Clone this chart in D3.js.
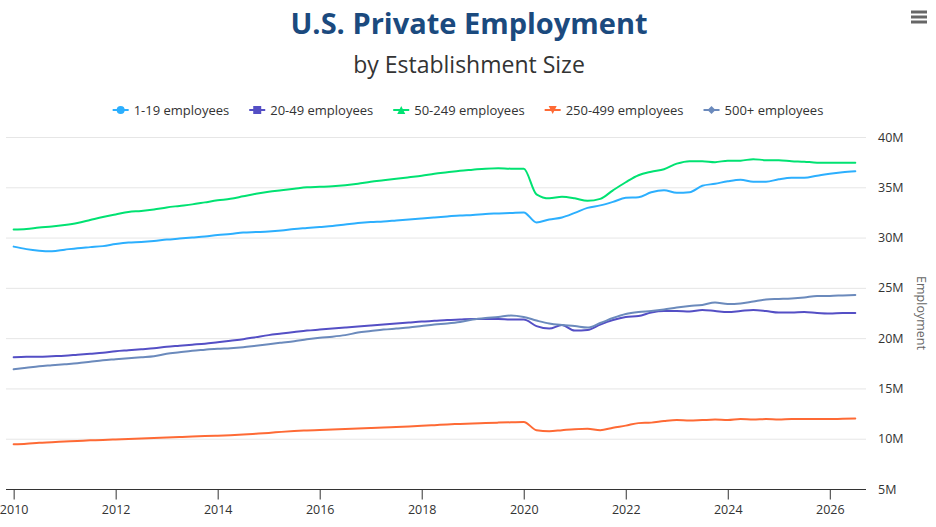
<!DOCTYPE html>
<html>
<head>
<meta charset="utf-8">
<script src="https://cdn.jsdelivr.net/npm/d3@7"></script>
<style>
  body { margin: 0; background: #fff; }
  svg { font-family: "Open Sans", "Noto Sans", sans-serif; display: block; }
</style>
</head>
<body>
<div id="chart"></div>
<script>
// quarterly estimates, millions of employees, starting 2010 Q1
var emp1to19 = [29.1, 28.85, 28.7, 28.65, 28.8, 28.95, 29.05, 29.15, 29.35, 29.5, 29.55, 29.65,
  29.8, 29.9, 30.0, 30.1, 30.25, 30.35, 30.5, 30.55, 30.6, 30.7, 30.85, 30.95,
  31.05, 31.15, 31.3, 31.45, 31.55, 31.6, 31.7, 31.8, 31.9, 32.0, 32.1, 32.2,
  32.25, 32.35, 32.4, 32.45, 32.5, 31.5, 31.8, 32.0, 32.45, 32.95, 33.2, 33.55,
  33.95, 34.0, 34.5, 34.7, 34.45, 34.5, 35.15, 35.35, 35.6, 35.75, 35.55, 35.55,
  35.8, 35.95, 35.95, 36.15, 36.35, 36.5, 36.6];
var emp20to49 = [18.1, 18.15, 18.15, 18.2, 18.25, 18.35, 18.45, 18.55, 18.7, 18.8, 18.9, 19.0,
  19.15, 19.25, 19.35, 19.45, 19.6, 19.75, 19.9, 20.1, 20.3, 20.45, 20.6, 20.75,
  20.85, 20.95, 21.05, 21.15, 21.25, 21.35, 21.45, 21.55, 21.65, 21.72, 21.8, 21.85,
  21.9, 21.9, 21.9, 21.85, 21.85, 21.2, 20.95, 21.3, 20.75, 20.8, 21.35, 21.8,
  22.1, 22.2, 22.55, 22.7, 22.7, 22.65, 22.8, 22.7, 22.6, 22.7, 22.8, 22.7,
  22.55, 22.55, 22.6, 22.5, 22.45, 22.5, 22.5];
var emp50to249 = [30.8, 30.85, 31.0, 31.1, 31.25, 31.45, 31.75, 32.05, 32.3, 32.55, 32.65, 32.8,
  33.0, 33.15, 33.3, 33.5, 33.7, 33.85, 34.1, 34.35, 34.55, 34.7, 34.85, 35.0,
  35.05, 35.1, 35.2, 35.35, 35.55, 35.7, 35.85, 36.0, 36.15, 36.35, 36.5, 36.65,
  36.75, 36.85, 36.9, 36.85, 36.85, 34.3, 33.9, 34.05, 33.9, 33.65, 33.85, 34.7,
  35.5, 36.2, 36.55, 36.8, 37.35, 37.6, 37.6, 37.5, 37.65, 37.65, 37.8, 37.7,
  37.7, 37.6, 37.55, 37.45, 37.45, 37.45, 37.45];
var emp250to499 = [9.45, 9.5, 9.6, 9.65, 9.72, 9.78, 9.84, 9.88, 9.93, 9.98, 10.03, 10.07,
  10.12, 10.17, 10.22, 10.26, 10.3, 10.35, 10.42, 10.5, 10.58, 10.68, 10.76, 10.82,
  10.87, 10.92, 10.97, 11.02, 11.07, 11.12, 11.17, 11.22, 11.28, 11.35, 11.42, 11.47,
  11.52, 11.56, 11.6, 11.63, 11.66, 10.85, 10.75, 10.85, 10.95, 11.0, 10.85, 11.1,
  11.3, 11.55, 11.6, 11.75, 11.85, 11.8, 11.85, 11.9, 11.85, 11.95, 11.9, 11.95,
  11.9, 11.95, 11.95, 11.95, 11.95, 11.98, 12.0];
var emp500plus = [16.9, 17.05, 17.2, 17.3, 17.4, 17.5, 17.65, 17.8, 17.9, 18.0, 18.1, 18.2,
  18.45, 18.6, 18.75, 18.85, 18.95, 19.0, 19.1, 19.25, 19.4, 19.55, 19.7, 19.9,
  20.05, 20.15, 20.3, 20.55, 20.7, 20.85, 20.95, 21.05, 21.2, 21.35, 21.45, 21.6,
  21.85, 22.0, 22.1, 22.25, 22.1, 21.75, 21.45, 21.3, 21.2, 21.05, 21.5, 22.0,
  22.4, 22.6, 22.7, 22.85, 23.05, 23.2, 23.3, 23.55, 23.4, 23.45, 23.65, 23.85,
  23.9, 23.95, 24.05, 24.2, 24.2, 24.25, 24.3];

var seriesNames = ["1-19 employees", "20-49 employees", "50-249 employees", "250-499 employees", "500+ employees"];
var seriesValues = [emp1to19, emp20to49, emp50to249, emp250to499, emp500plus];
var yTicks = [5, 10, 15, 20, 25, 30, 35, 40];
var xTicks = [2010, 2012, 2014, 2016, 2018, 2020, 2022, 2024, 2026];

var colors = ["#2caffe", "#544fc5", "#00e272", "#fe6a35", "#6b8abc"];
var symbols = ["circle", "square", "triangle", "triangle-down", "diamond"];

var width = 936, height = 527;
var plot = {left: 6, right: 866, top: 137, bottom: 489};

var quarters = d3.range(emp1to19.length).map(function(i) { return 2010 + i / 4; });

var svg = d3.select("#chart").append("svg")
    .attr("width", width)
    .attr("height", height);

var x = d3.scaleLinear([2009.85, 2026.71], [plot.left, plot.right]);
var y = d3.scaleLinear([5, 40], [plot.bottom, plot.top]);

// title
svg.append("text")
    .attr("x", width / 2 + 1).attr("y", 34)
    .attr("text-anchor", "middle")
    .style("font-size", "29px").style("font-weight", "bold")
    .style("fill", "#1b4a7e")
    .text("U.S. Private Employment");
svg.append("text")
    .attr("x", width / 2 + 1).attr("y", 73)
    .attr("text-anchor", "middle")
    .style("font-size", "23px")
    .style("fill", "#333333")
    .text("by Establishment Size");

// menu icon
var menu = svg.append("g").attr("stroke", "#666666").attr("stroke-width", 3);
[12, 17, 22].forEach(function(yy) {
    menu.append("line").attr("x1", 911).attr("x2", 927).attr("y1", yy).attr("y2", yy);
});

// gridlines
svg.append("g")
    .selectAll("line")
    .data(yTicks.slice(1))
    .join("line")
    .attr("x1", plot.left).attr("x2", plot.right)
    .attr("y1", function(d) { return y(d) + 0.5; })
    .attr("y2", function(d) { return y(d) + 0.5; })
    .attr("stroke", "#e6e6e6");

// y axis (right)
var yAxis = svg.append("g")
    .attr("transform", "translate(" + plot.right + ",0)")
    .call(d3.axisRight(y).tickValues(yTicks).tickSize(0).tickPadding(12)
        .tickFormat(function(d) { return d + "M"; }));
yAxis.select(".domain").remove();
yAxis.selectAll("text")
    .style("font-size", "12.5px").style("fill", "#333333")
    .style("font-family", "'Open Sans', sans-serif");

svg.append("text")
    .attr("transform", "translate(917," + ((plot.top + plot.bottom) / 2) + ") rotate(90)")
    .attr("text-anchor", "middle")
    .style("font-size", "12.5px").style("fill", "#666666")
    .text("Employment");

// x axis
var xAxis = svg.append("g")
    .attr("transform", "translate(0," + (plot.bottom + 0.5) + ")")
    .call(d3.axisBottom(x).tickValues(xTicks).tickSize(10).tickPadding(6)
        .tickFormat(d3.format("d")));
xAxis.select(".domain")
    .attr("d", "M" + plot.left + ",0H" + plot.right)
    .attr("stroke", "#333333");
xAxis.selectAll(".tick line").attr("stroke", "#333333");
xAxis.selectAll("text")
    .style("font-size", "12.5px").style("fill", "#333333")
    .style("font-family", "'Open Sans', sans-serif");

// lines
var line = d3.line()
    .x(function(d, i) { return x(quarters[i]); })
    .y(function(d) { return y(d); })
    .curve(d3.curveMonotoneX);

svg.append("g")
    .selectAll("path")
    .data(seriesValues)
    .join("path")
    .attr("d", line)
    .attr("fill", "none")
    .attr("stroke", function(d, i) { return colors[i]; })
    .attr("stroke-width", 2)
    .attr("stroke-linejoin", "round")
    .attr("stroke-linecap", "round");

// legend
function symbolPath(type, r) {
    if (type == "circle") return d3.symbol(d3.symbolCircle, Math.PI * r * r)();
    if (type == "square") return "M" + (-r) + "," + (-r) + "h" + 2 * r + "v" + 2 * r + "h" + (-2 * r) + "Z";
    if (type == "triangle") return "M0," + (-r) + "L" + r + "," + r + "L" + (-r) + "," + r + "Z";
    if (type == "triangle-down") return "M" + (-r) + "," + (-r) + "L" + r + "," + (-r) + "L0," + r + "Z";
    return "M0," + (-r) + "L" + r + ",0L0," + r + "L" + (-r) + ",0Z";
}

var legend = svg.append("g");
var items = legend.selectAll("g")
    .data(seriesNames)
    .join("g");
items.append("line")
    .attr("x1", 0).attr("x2", 16)
    .attr("stroke", function(d, i) { return colors[i]; })
    .attr("stroke-width", 2);
items.append("path")
    .attr("d", function(d, i) { return symbolPath(symbols[i], 4); })
    .attr("transform", "translate(8,0)")
    .attr("fill", function(d, i) { return colors[i]; });
items.append("text")
    .attr("x", 21).attr("dy", "0.35em")
    .style("font-size", "13px").style("fill", "#333333")
    .text(function(d) { return d; });

var widths = [];
items.each(function() { widths.push(21 + d3.select(this).select("text").node().getComputedTextLength()); });
var gap = 20;
var total = d3.sum(widths) + gap * (widths.length - 1);
var cursor = (width - total) / 2;
items.attr("transform", function(d, i) {
    var t = "translate(" + cursor + ",110)";
    cursor += widths[i] + gap;
    return t;
});
</script>
</body>
</html>
